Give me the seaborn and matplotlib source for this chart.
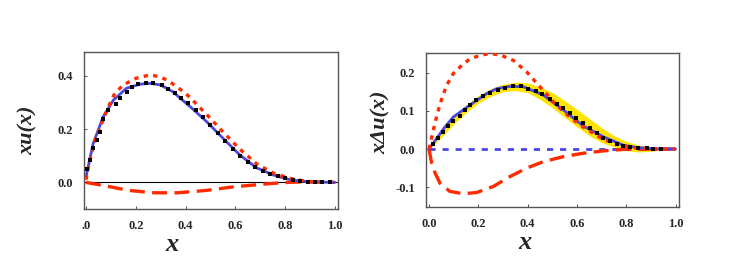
import numpy as np
import pandas as pd
import seaborn as sns
import matplotlib.pyplot as plt
import matplotlib.transforms as mtransforms

sns.set_style("ticks")
plt.rcParams['font.family'] = ['Liberation Serif', 'DejaVu Serif']

# ---- left panel: xu(x) ----
xl_blue = [0.0, 0.029, 0.069, 0.11, 0.163, 0.217, 0.26, 0.3, 0.35, 0.384, 0.418, 0.485, 0.55, 0.618, 0.685, 0.752, 0.82, 0.886, 0.95, 1.0]
yl_blue = [0.02, 0.146, 0.246, 0.309, 0.354, 0.369, 0.372, 0.366, 0.34, 0.312, 0.285, 0.228, 0.166, 0.103, 0.055, 0.028, 0.01, 0.003, 0.001, 0.0]

xl_rdot = [0.0, 0.015, 0.036, 0.063, 0.09, 0.116, 0.15, 0.2, 0.257, 0.297, 0.33, 0.364, 0.4, 0.425, 0.485, 0.55, 0.618, 0.685, 0.752, 0.82, 0.886, 0.95, 1.0]
yl_rdot = [0.01, 0.08, 0.158, 0.221, 0.284, 0.335, 0.366, 0.391, 0.404, 0.397, 0.382, 0.36, 0.335, 0.312, 0.255, 0.19, 0.125, 0.07, 0.035, 0.015, 0.004, 0.001, 0.0]

xl_rdash = [0.0, 0.1, 0.17, 0.27, 0.37, 0.485, 0.59, 0.72, 0.79, 0.87, 0.94, 1.0]
yl_rdash = [0.0, -0.017, -0.03, -0.039, -0.039, -0.03, -0.017, -0.006, -0.001, 0.002, 0.001, 0.0]

xl_sq = [0.003, 0.016, 0.029, 0.043, 0.056, 0.069, 0.09, 0.119, 0.137, 0.163, 0.186, 0.21, 0.243, 0.27, 0.304,
         0.33, 0.357, 0.382, 0.41, 0.44, 0.47, 0.5, 0.53, 0.56, 0.59, 0.62, 0.65, 0.68, 0.71, 0.74, 0.77,
         0.8, 0.83, 0.86, 0.89, 0.92, 0.95, 0.98]
yl_sq = [0.052, 0.083, 0.131, 0.158, 0.19, 0.24, 0.272, 0.293, 0.318, 0.341, 0.357, 0.37, 0.375, 0.375, 0.366,
         0.35, 0.335, 0.316, 0.297, 0.271, 0.244, 0.214, 0.184, 0.154, 0.126, 0.1, 0.078, 0.059, 0.044, 0.032, 0.023,
         0.016, 0.01, 0.006, 0.003, 0.002, 0.001, 0.0]

# ---- right panel: x Delta u(x) ----
xr_blue = [0.0, 0.065, 0.099, 0.166, 0.234, 0.275, 0.329, 0.383, 0.464, 0.545, 0.626, 0.707, 0.788, 0.842, 0.91, 1.0]
yr_blue = [0.0, 0.058, 0.084, 0.115, 0.145, 0.158, 0.164, 0.163, 0.141, 0.102, 0.06, 0.032, 0.01, 0.004, 0.001, 0.0]

xr_rdot = [0.0, 0.018, 0.034, 0.052, 0.072, 0.099, 0.133, 0.166, 0.207, 0.247, 0.29, 0.342, 0.396, 0.45, 0.517, 0.572, 0.626, 0.707, 0.775, 0.842, 0.92, 1.0]
yr_rdot = [0.0, 0.05, 0.093, 0.132, 0.167, 0.198, 0.219, 0.236, 0.245, 0.25, 0.246, 0.232, 0.202, 0.163, 0.115, 0.083, 0.057, 0.025, 0.01, 0.002, 0.0, 0.0]

xr_rdash = [0.0, 0.011, 0.025, 0.045, 0.085, 0.139, 0.193, 0.261, 0.329, 0.396, 0.464, 0.545, 0.626, 0.707, 0.788, 0.9, 1.0]
yr_rdash = [0.0, -0.037, -0.063, -0.09, -0.111, -0.117, -0.114, -0.098, -0.072, -0.05, -0.033, -0.02, -0.011, -0.005, -0.001, 0.0, 0.0]

xr_sq = [0.018, 0.038, 0.058, 0.079, 0.099, 0.124, 0.147, 0.166, 0.19, 0.22, 0.247, 0.278, 0.308, 0.342,
         0.375, 0.402, 0.432, 0.46, 0.49, 0.52, 0.545, 0.572, 0.596, 0.626, 0.653, 0.68, 0.707, 0.734,
         0.761, 0.788, 0.815, 0.849, 0.883, 0.91, 0.94]
yr_sq = [0.013, 0.028, 0.045, 0.06, 0.074, 0.086, 0.102, 0.115, 0.128, 0.139, 0.147, 0.154, 0.16, 0.164,
         0.164, 0.158, 0.152, 0.144, 0.132, 0.119, 0.107, 0.094, 0.082, 0.067, 0.054, 0.041, 0.03, 0.021,
         0.012, 0.008, 0.005, 0.003, 0.002, 0.001, 0.001]

xr_band = [0.0, 0.05, 0.1, 0.15, 0.2, 0.25, 0.3, 0.35, 0.4, 0.45, 0.5, 0.55, 0.6, 0.65, 0.7, 0.75, 0.8, 0.85, 0.9, 0.95, 1.0]
yr_band_lo = [0.0, 0.03, 0.065, 0.095, 0.12, 0.138, 0.15, 0.153, 0.148, 0.13, 0.108, 0.083, 0.058, 0.035, 0.017, 0.005, -0.004, -0.008, -0.006, -0.002, 0.0]
yr_band_hi = [0.0, 0.045, 0.085, 0.115, 0.14, 0.158, 0.17, 0.175, 0.173, 0.163, 0.148, 0.127, 0.104, 0.08, 0.056, 0.035, 0.02, 0.01, 0.006, 0.002, 0.0]

red = '#ff2a00'
blue = '#4a46e0'
yellow = '#ffe400'

fig = plt.figure(figsize=(7.34, 2.65), dpi=100)
ax1 = fig.add_axes([0.1144, 0.2113, 0.346, 0.5925])
ax2 = fig.add_axes([0.5804, 0.22, 0.3447, 0.581])

# left
ax1.axhline(0, color='black', lw=0.8, zorder=1)
sns.lineplot(x=xl_rdash, y=yl_rdash, ax=ax1, color=red, lw=2.4, zorder=2).lines[-1].set_dashes([4.5, 2.2])
sns.lineplot(x=xl_blue, y=yl_blue, ax=ax1, color=blue, lw=2.0, zorder=3)
sns.lineplot(x=xl_rdot, y=yl_rdot, ax=ax1, color=red, lw=2.4, zorder=3).lines[-1].set_dashes([1.3, 1.6])
sns.scatterplot(x=xl_sq, y=yl_sq, ax=ax1, color='black', marker='s', s=9, linewidth=0, zorder=4)

ax1.set_xlim(-0.008, 1.012)
ax1.set_ylim(-0.1, 0.49)
ax1.set_xticks([0.0, 0.2, 0.4, 0.6, 0.8, 1.0])
ax1.set_xticklabels(['.0', '0.2', '0.4', '0.6', '0.8', '1.0'])
ax1.set_yticks([0.0, 0.2, 0.4])
ax1.set_yticklabels(['0.0', '0.2', '0.4'])
ax1.set_xlabel('x', fontsize=19, fontweight='bold', fontstyle='italic')
ax1.set_ylabel('xu(x)', fontsize=16, fontweight='bold', fontstyle='italic')
ax1.xaxis.set_label_coords(0.346, -0.155)
ax1.yaxis.set_label_coords(-0.183, 0.5)
offset = mtransforms.ScaledTranslation(-10 / 100, 0, fig.dpi_scale_trans)
for lab in ax1.get_xticklabels():
    lab.set_transform(lab.get_transform() + offset)

# right
ax2.fill_between(xr_band, yr_band_lo, yr_band_hi, color=yellow, lw=0, zorder=1)
ax2.axhline(0, xmin=0.012, xmax=0.988, color=blue, lw=2.0, dashes=[2.2, 2.5], zorder=2)
sns.lineplot(x=xr_rdash, y=yr_rdash, ax=ax2, color=red, lw=2.4, zorder=2).lines[-1].set_dashes([4.5, 2.2])
sns.lineplot(x=xr_blue, y=yr_blue, ax=ax2, color=blue, lw=2.0, zorder=3)
sns.lineplot(x=xr_rdot, y=yr_rdot, ax=ax2, color=red, lw=2.4, zorder=3).lines[-1].set_dashes([1.3, 1.6])
sns.scatterplot(x=xr_sq, y=yr_sq, ax=ax2, color='black', marker='s', s=9, linewidth=0, zorder=4)

ax2.set_xlim(-0.012, 1.014)
ax2.set_ylim(-0.151, 0.252)
ax2.set_xticks([0.0, 0.2, 0.4, 0.6, 0.8, 1.0])
ax2.set_xticklabels(['0.0', '0.2', '0.4', '0.6', '0.8', '1.0'])
ax2.set_yticks([-0.1, 0.0, 0.1, 0.2])
ax2.set_yticklabels(['-0.1', '0.0', '0.1', '0.2'])
ax2.set_xlabel('x', fontsize=19, fontweight='bold', fontstyle='italic')
ax2.set_ylabel('x\u0394u(x)', fontsize=16, fontweight='bold', fontstyle='italic')
ax2.xaxis.set_label_coords(0.39, -0.155)
ax2.yaxis.set_label_coords(-0.138, 0.55)

for ax in (ax1, ax2):
    for sp in ax.spines.values():
        sp.set_visible(True)
        sp.set_color('#555555')
        sp.set_linewidth(1.0)
    ax.tick_params(direction='in', length=2.5, width=0.7, color='#555555', labelsize=9, pad=8)
    for lab in ax.get_xticklabels() + ax.get_yticklabels():
        lab.set_fontweight('bold')

fig.savefig('out.png', dpi=100)
